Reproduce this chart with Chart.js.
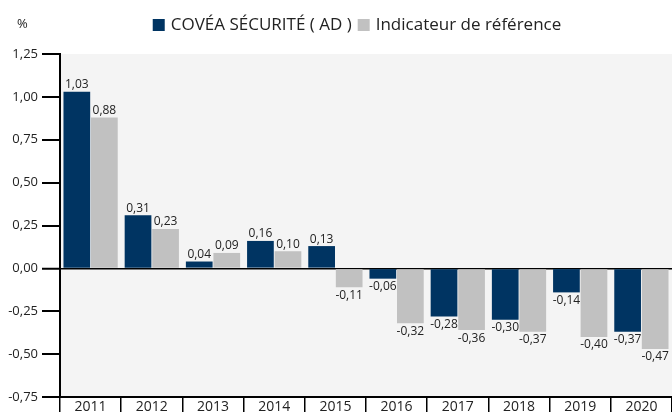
<!DOCTYPE html>
<html>
<head>
<meta charset="utf-8">
<script src="https://cdn.jsdelivr.net/npm/chart.js@4.4.1/dist/chart.umd.min.js"></script>
<style>
  body { margin: 0; background: #fff; }
  #wrap { width: 672px; height: 412px; }
</style>
</head>
<body>
<div id="wrap"><canvas id="perfChart" width="672" height="412"></canvas></div>
<script>
const years = ['2011', '2012', '2013', '2014', '2015', '2016', '2017', '2018', '2019', '2020'];
const fundValues = [1.03, 0.31, 0.04, 0.16, 0.13, -0.06, -0.28, -0.30, -0.14, -0.37];
const benchValues = [0.88, 0.23, 0.09, 0.10, -0.11, -0.32, -0.36, -0.37, -0.40, -0.47];
const seriesNames = ['COVÉA SÉCURITÉ ( AD )', 'Indicateur de référence'];
const seriesColors = ['#003462', '#c1c1c1'];
const FONT = '"Open Sans", "Noto Sans", sans-serif';

const fmt = v => v.toFixed(2).replace('.', ',');

// plot background
const bgPlugin = {
    id: 'plotBg',
    beforeDraw(chart) {
        const a = chart.chartArea, ctx = chart.ctx;
        ctx.save();
        ctx.fillStyle = '#f4f4f4';
        ctx.fillRect(a.left, a.top, a.right - a.left, a.bottom - a.top);
        ctx.restore();
    }
};

// value labels over / under each bar
const valueLabels = {
    id: 'valueLabels',
    afterDatasetsDraw(chart) {
        const ctx = chart.ctx;
        ctx.save();
        ctx.font = '12px ' + FONT;
        ctx.fillStyle = '#222';
        ctx.textAlign = 'center';
        chart.data.datasets.forEach((ds, i) => {
            chart.getDatasetMeta(i).data.forEach((bar, j) => {
                const v = ds.data[j];
                if (v >= 0) {
                    ctx.textBaseline = 'bottom';
                    ctx.fillText(fmt(v), bar.x, bar.y - 1);
                } else {
                    ctx.textBaseline = 'top';
                    ctx.fillText(fmt(v), bar.x, bar.y + 2);
                }
            });
        });
        ctx.restore();
    }
};

// legend + unit label at the top
const headerPlugin = {
    id: 'header',
    afterDraw(chart) {
        const ctx = chart.ctx;
        ctx.save();
        ctx.fillStyle = '#222';
        ctx.font = '13px ' + FONT;
        ctx.textBaseline = 'middle';
        ctx.textAlign = 'left';
        ctx.fillText('%', 17, 24);

        ctx.font = '17px ' + FONT;
        const box = 12, gap = 6, between = 6;
        const w0 = ctx.measureText(seriesNames[0]).width;
        const w1 = ctx.measureText(seriesNames[1]).width;
        const total = box + gap + w0 + between + box + gap + w1;
        let x = 357 - total / 2;
        const y = 25;
        seriesNames.forEach((name, i) => {
            ctx.fillStyle = seriesColors[i];
            ctx.fillRect(x, y - box / 2, box, box);
            x += box + gap;
            ctx.fillStyle = '#222';
            ctx.fillText(name, x, y);
            x += (i === 0 ? w0 : w1) + between;
        });
        ctx.restore();
    }
};

new Chart(document.getElementById('perfChart').getContext('2d'), {
    type: 'bar',
    data: {
        labels: years,
        datasets: [
            { label: seriesNames[0], data: fundValues, backgroundColor: seriesColors[0] },
            { label: seriesNames[1], data: benchValues, backgroundColor: seriesColors[1] }
        ]
    },
    options: {
        responsive: false,
        animation: false,
        layout: { padding: { top: 54, left: 0, right: 0, bottom: 0 } },
        datasets: { bar: { categoryPercentage: 0.9, barPercentage: 0.97 } },
        plugins: { legend: { display: false }, tooltip: { enabled: false } },
        scales: {
            x: {
                grid: {
                    offset: true,
                    drawOnChartArea: false,
                    tickLength: 16,
                    tickColor: '#000',
                    lineWidth: 1.5
                },
                border: { color: '#000', width: 2 },
                ticks: { color: '#222', font: { family: FONT, size: 14 }, padding: -14 },
                afterFit(scale) { scale.height = 15; }
            },
            y: {
                min: -0.75,
                max: 1.25,
                grid: {
                    color: ctx => (ctx.tick && ctx.tick.value === 0 ? '#000' : 'transparent'),
                    lineWidth: ctx => (ctx.tick && ctx.tick.value === 0 ? 1.5 : 0),
                    tickColor: '#000',
                    tickWidth: 2,
                    tickLength: 18
                },
                border: { color: '#000', width: 2 },
                ticks: {
                    stepSize: 0.25,
                    color: '#222',
                    padding: 4,
                    font: { family: FONT, size: 13 },
                    callback: v => fmt(v)
                },
                afterFit(scale) { scale.width = 60; }
            }
        }
    },
    plugins: [bgPlugin, valueLabels, headerPlugin]
});
</script>
</body>
</html>
